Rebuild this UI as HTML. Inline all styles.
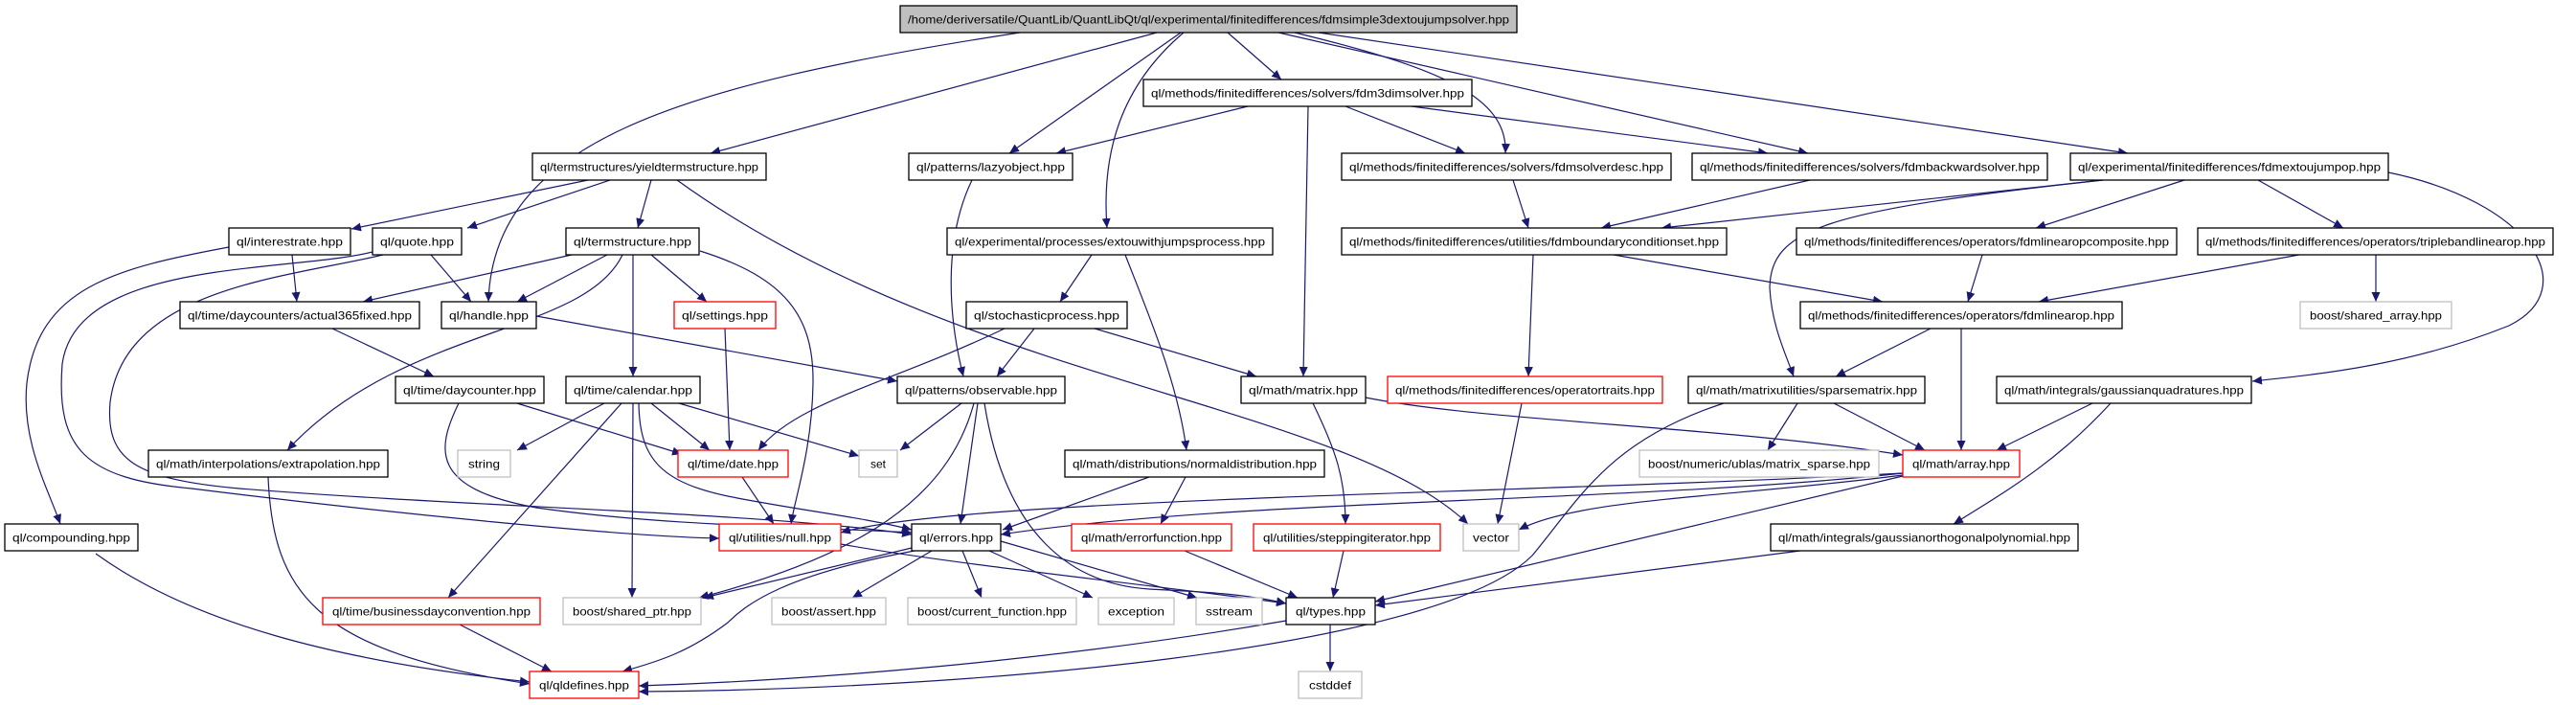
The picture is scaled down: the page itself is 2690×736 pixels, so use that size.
<!DOCTYPE html>
<html><head><meta charset="utf-8"><style>
html,body{margin:0;padding:0;background:#fff;}
svg{display:block;}
text{font-family:"Liberation Sans",sans-serif;font-size:12px;fill:#000;}
.n{fill:#fff;stroke:#000;stroke-width:1.3;}
.r{fill:#fff;stroke:#ff0000;stroke-width:1.3;}
.g{fill:#fff;stroke:#bfbfbf;stroke-width:1.3;}
.e{fill:none;stroke:#191970;stroke-width:1.2;marker-end:url(#a);}
</style></head><body>
<svg width="2690" height="736" viewBox="0 0 2690 736" xmlns="http://www.w3.org/2000/svg">
<defs><marker id="a" markerUnits="userSpaceOnUse" markerWidth="10" markerHeight="9" refX="10" refY="4.5" orient="auto"><path d="M0,0 L10,4.5 L0,9z" fill="#191970"/></marker></defs>
<g>
<path class="e" d="M1065,34 C700,90 515,150 510,315"/>
<path class="e" d="M1208,34 L742,160"/>
<path class="e" d="M1233,34 L1054,160"/>
<path class="e" d="M1236,34 C1170,90 1150,160 1156,238"/>
<path class="e" d="M1282,34 L1338,83"/>
<path class="e" d="M1352,34 C1500,70 1575,100 1572,160"/>
<path class="e" d="M1335,34 L1888,160"/>
<path class="e" d="M1377,34 L2222,160"/>
<path class="e" d="M1303,111 L1103,160"/>
<path class="e" d="M1405,111 L1530,160"/>
<path class="e" d="M1474,111 L1846,160"/>
<path class="e" d="M1366,111 L1361,393"/>
<path class="e" d="M614,188 L367,239"/>
<path class="e" d="M637,188 L488,238"/>
<path class="e" d="M680,188 L666,238"/>
<path class="e" d="M707,188 C1000,400 1400,420 1533,547"/>
<path class="e" d="M305,266 L310,315"/>
<path class="e" d="M239,258 C120,280 40,300 28,400 C22,460 50,510 63,547"/>
<path class="e" d="M389,263 C300,285 80,270 65,380 C58,470 90,500 200,510 C400,535 650,560 751,562"/>
<path class="e" d="M400,266 C300,290 130,300 115,420 C110,480 140,500 250,510 C500,530 800,535 952,558"/>
<path class="e" d="M450,266 L492,315"/>
<path class="e" d="M597,266 L379,315"/>
<path class="e" d="M634,266 L540,315"/>
<path class="e" d="M650,266 C610,350 420,340 300,470"/>
<path class="e" d="M661,266 L661,393"/>
<path class="e" d="M680,266 L738,315"/>
<path class="e" d="M731,262 C820,290 850,330 849,400 C848,470 830,520 826,547"/>
<path class="e" d="M560,330 L937,398"/>
<path class="e" d="M757,343 L762,470"/>
<path class="e" d="M347,343 L453,393"/>
<path class="e" d="M540,421 L712,474"/>
<path class="e" d="M479,421 C455,470 450,510 560,530 C700,550 850,550 952,556"/>
<path class="e" d="M631,421 L540,470"/>
<path class="e" d="M649,421 L468,624"/>
<path class="e" d="M661,421 L660,624"/>
<path class="e" d="M680,421 L741,470"/>
<path class="e" d="M709,421 L897,476"/>
<path class="e" d="M667,421 C668,480 690,505 770,520 C850,535 900,540 952,553"/>
<path class="e" d="M1049,343 C930,400 830,420 792,470"/>
<path class="e" d="M775,498 L808,547"/>
<path class="e" d="M1080,343 L1041,393"/>
<path class="e" d="M1143,343 L1312,393"/>
<path class="e" d="M1015,188 C985,250 990,330 1006,393"/>
<path class="e" d="M1140,266 L1107,315"/>
<path class="e" d="M1175,266 C1200,330 1230,400 1239,470"/>
<path class="e" d="M1004,421 L940,470"/>
<path class="e" d="M1021,421 L1003,547"/>
<path class="e" d="M1017,421 C990,520 900,580 730,624"/>
<path class="e" d="M1028,421 C1050,560 1120,610 1200,615 C1260,618 1300,620 1343,630"/>
<path class="e" d="M1200,498 L1047,553"/>
<path class="e" d="M1238,498 L1212,547"/>
<path class="e" d="M1371,421 C1395,470 1405,500 1405,547"/>
<path class="e" d="M1426,415 C1550,440 1800,445 1987,475"/>
<path class="e" d="M1589,421 L1564,547"/>
<path class="e" d="M952,572 L735,624"/>
<path class="e" d="M973,575 L890,624"/>
<path class="e" d="M1005,575 L1025,624"/>
<path class="e" d="M1033,575 L1141,624"/>
<path class="e" d="M1045,565 L1250,624"/>
<path class="e" d="M955,575 C820,600 780,630 760,650 C720,680 690,690 650,701"/>
<path class="e" d="M878,568 C1000,590 1200,610 1343,630"/>
<path class="e" d="M1237,575 L1355,624"/>
<path class="e" d="M1403,575 L1392,624"/>
<path class="e" d="M1389,652 L1389,701"/>
<path class="e" d="M1343,648 C1100,690 850,710 667,716"/>
<path class="e" d="M1800,421 C1680,460 1650,520 1600,580 C1500,680 1000,720 667,722"/>
<path class="e" d="M1987,497 L1436,628"/>
<path class="e" d="M1987,496 C1800,520 1650,520 1586,553"/>
<path class="e" d="M1987,494 C1700,525 1300,520 1045,558"/>
<path class="e" d="M1987,494 C1600,515 1000,520 878,556"/>
<path class="e" d="M1880,575 L1436,632"/>
<path class="e" d="M2185,421 L2085,470"/>
<path class="e" d="M2204,421 C2150,480 2100,510 2040,547"/>
<path class="e" d="M2016,343 L1917,393"/>
<path class="e" d="M2048,343 L2048,470"/>
<path class="e" d="M1877,421 L1846,470"/>
<path class="e" d="M1915,421 L2010,470"/>
<path class="e" d="M2196,188 C1900,220 1850,240 1848,300 C1850,340 1865,370 1873,393"/>
<path class="e" d="M2494,180 C2640,210 2700,300 2620,340 C2520,380 2430,390 2352,398"/>
<path class="e" d="M2196,188 L1735,238"/>
<path class="e" d="M2281,188 L2126,238"/>
<path class="e" d="M2358,188 L2447,238"/>
<path class="e" d="M1580,188 L1596,238"/>
<path class="e" d="M1890,188 L1672,238"/>
<path class="e" d="M1601,266 L1596,393"/>
<path class="e" d="M1685,266 L1966,315"/>
<path class="e" d="M2070,266 L2055,315"/>
<path class="e" d="M2401,266 L2129,315"/>
<path class="e" d="M2481,266 L2481,315"/>
<path class="e" d="M480,652 L576,701"/>
<path class="e" d="M280,498 C285,620 330,680 553,714"/>
<path class="e" d="M100,578 C200,650 350,690 553,712"/>
</g>
<g>
<rect x="940" y="6" width="644" height="28" fill="#bfbfbf" stroke="#000" stroke-width="1.3"/><text x="1262" y="24.5" text-anchor="middle" textLength="628" lengthAdjust="spacingAndGlyphs">/home/deriversatile/QuantLib/QuantLibQt/ql/experimental/finitedifferences/fdmsimple3dextoujumpsolver.hpp</text>
<rect class="n" x="1194" y="83" width="343" height="28"/><text x="1365.5" y="101.5" text-anchor="middle" textLength="327" lengthAdjust="spacingAndGlyphs">ql/methods/finitedifferences/solvers/fdm3dimsolver.hpp</text>
<rect class="n" x="556" y="160" width="244" height="28"/><text x="678" y="178.5" text-anchor="middle" textLength="228" lengthAdjust="spacingAndGlyphs">ql/termstructures/yieldtermstructure.hpp</text>
<rect class="n" x="949" y="160" width="171" height="28"/><text x="1034.5" y="178.5" text-anchor="middle" textLength="155" lengthAdjust="spacingAndGlyphs">ql/patterns/lazyobject.hpp</text>
<rect class="n" x="1401" y="160" width="344" height="28"/><text x="1573" y="178.5" text-anchor="middle" textLength="328" lengthAdjust="spacingAndGlyphs">ql/methods/finitedifferences/solvers/fdmsolverdesc.hpp</text>
<rect class="n" x="1767" y="160" width="371" height="28"/><text x="1952.5" y="178.5" text-anchor="middle" textLength="355" lengthAdjust="spacingAndGlyphs">ql/methods/finitedifferences/solvers/fdmbackwardsolver.hpp</text>
<rect class="n" x="2162" y="160" width="332" height="28"/><text x="2328" y="178.5" text-anchor="middle" textLength="316" lengthAdjust="spacingAndGlyphs">ql/experimental/finitedifferences/fdmextoujumpop.hpp</text>
<rect class="n" x="239" y="238" width="127" height="28"/><text x="302.5" y="256.5" text-anchor="middle" textLength="111" lengthAdjust="spacingAndGlyphs">ql/interestrate.hpp</text>
<rect class="n" x="389" y="238" width="93" height="28"/><text x="435.5" y="256.5" text-anchor="middle" textLength="77" lengthAdjust="spacingAndGlyphs">ql/quote.hpp</text>
<rect class="n" x="591" y="238" width="139" height="28"/><text x="660.5" y="256.5" text-anchor="middle" textLength="123" lengthAdjust="spacingAndGlyphs">ql/termstructure.hpp</text>
<rect class="n" x="989" y="238" width="340" height="28"/><text x="1159" y="256.5" text-anchor="middle" textLength="324" lengthAdjust="spacingAndGlyphs">ql/experimental/processes/extouwithjumpsprocess.hpp</text>
<rect class="n" x="1401" y="238" width="402" height="28"/><text x="1602" y="256.5" text-anchor="middle" textLength="386" lengthAdjust="spacingAndGlyphs">ql/methods/finitedifferences/utilities/fdmboundaryconditionset.hpp</text>
<rect class="n" x="1876" y="238" width="397" height="28"/><text x="2074.5" y="256.5" text-anchor="middle" textLength="381" lengthAdjust="spacingAndGlyphs">ql/methods/finitedifferences/operators/fdmlinearopcomposite.hpp</text>
<rect class="n" x="2295" y="238" width="371" height="28"/><text x="2480.5" y="256.5" text-anchor="middle" textLength="355" lengthAdjust="spacingAndGlyphs">ql/methods/finitedifferences/operators/triplebandlinearop.hpp</text>
<rect class="n" x="188" y="315" width="250" height="28"/><text x="313" y="333.5" text-anchor="middle" textLength="234" lengthAdjust="spacingAndGlyphs">ql/time/daycounters/actual365fixed.hpp</text>
<rect class="n" x="461" y="315" width="99" height="28"/><text x="510.5" y="333.5" text-anchor="middle" textLength="83" lengthAdjust="spacingAndGlyphs">ql/handle.hpp</text>
<rect class="r" x="704" y="315" width="106" height="28"/><text x="757" y="333.5" text-anchor="middle" textLength="90" lengthAdjust="spacingAndGlyphs">ql/settings.hpp</text>
<rect class="n" x="1009" y="315" width="168" height="28"/><text x="1093" y="333.5" text-anchor="middle" textLength="152" lengthAdjust="spacingAndGlyphs">ql/stochasticprocess.hpp</text>
<rect class="n" x="1880" y="315" width="336" height="28"/><text x="2048" y="333.5" text-anchor="middle" textLength="320" lengthAdjust="spacingAndGlyphs">ql/methods/finitedifferences/operators/fdmlinearop.hpp</text>
<rect class="g" x="2402" y="315" width="158" height="28"/><text x="2481" y="333.5" text-anchor="middle" textLength="138" lengthAdjust="spacingAndGlyphs">boost/shared_array.hpp</text>
<rect class="n" x="413" y="393" width="155" height="28"/><text x="490.5" y="411.5" text-anchor="middle" textLength="139" lengthAdjust="spacingAndGlyphs">ql/time/daycounter.hpp</text>
<rect class="n" x="591" y="393" width="140" height="28"/><text x="661" y="411.5" text-anchor="middle" textLength="124" lengthAdjust="spacingAndGlyphs">ql/time/calendar.hpp</text>
<rect class="n" x="937" y="393" width="175" height="28"/><text x="1024.5" y="411.5" text-anchor="middle" textLength="159" lengthAdjust="spacingAndGlyphs">ql/patterns/observable.hpp</text>
<rect class="n" x="1296" y="393" width="130" height="28"/><text x="1361" y="411.5" text-anchor="middle" textLength="114" lengthAdjust="spacingAndGlyphs">ql/math/matrix.hpp</text>
<rect class="r" x="1449" y="393" width="287" height="28"/><text x="1592.5" y="411.5" text-anchor="middle" textLength="271" lengthAdjust="spacingAndGlyphs">ql/methods/finitedifferences/operatortraits.hpp</text>
<rect class="n" x="1763" y="393" width="247" height="28"/><text x="1886.5" y="411.5" text-anchor="middle" textLength="231" lengthAdjust="spacingAndGlyphs">ql/math/matrixutilities/sparsematrix.hpp</text>
<rect class="n" x="2085" y="393" width="266" height="28"/><text x="2218" y="411.5" text-anchor="middle" textLength="250" lengthAdjust="spacingAndGlyphs">ql/math/integrals/gaussianquadratures.hpp</text>
<rect class="n" x="155" y="470" width="250" height="28"/><text x="280" y="488.5" text-anchor="middle" textLength="234" lengthAdjust="spacingAndGlyphs">ql/math/interpolations/extrapolation.hpp</text>
<rect class="g" x="478" y="470" width="55" height="28"/><text x="505.5" y="488.5" text-anchor="middle" textLength="33" lengthAdjust="spacingAndGlyphs">string</text>
<rect class="r" x="708" y="470" width="115" height="28"/><text x="765.5" y="488.5" text-anchor="middle" textLength="95" lengthAdjust="spacingAndGlyphs">ql/time/date.hpp</text>
<rect class="g" x="897" y="470" width="40" height="28"/><text x="917" y="488.5" text-anchor="middle">set</text>
<rect class="n" x="1112" y="470" width="271" height="28"/><text x="1247.5" y="488.5" text-anchor="middle" textLength="255" lengthAdjust="spacingAndGlyphs">ql/math/distributions/normaldistribution.hpp</text>
<rect class="g" x="1712" y="470" width="250" height="28"/><text x="1837" y="488.5" text-anchor="middle" textLength="232" lengthAdjust="spacingAndGlyphs">boost/numeric/ublas/matrix_sparse.hpp</text>
<rect class="r" x="1987" y="470" width="122" height="28"/><text x="2048" y="488.5" text-anchor="middle" textLength="102" lengthAdjust="spacingAndGlyphs">ql/math/array.hpp</text>
<rect class="n" x="5" y="547" width="139" height="28"/><text x="74.5" y="565.5" text-anchor="middle" textLength="123" lengthAdjust="spacingAndGlyphs">ql/compounding.hpp</text>
<rect class="r" x="751" y="547" width="127" height="28"/><text x="814.5" y="565.5" text-anchor="middle" textLength="107" lengthAdjust="spacingAndGlyphs">ql/utilities/null.hpp</text>
<rect class="n" x="952" y="547" width="93" height="28"/><text x="998.5" y="565.5" text-anchor="middle" textLength="77" lengthAdjust="spacingAndGlyphs">ql/errors.hpp</text>
<rect class="r" x="1119" y="547" width="167" height="28"/><text x="1202.5" y="565.5" text-anchor="middle" textLength="147" lengthAdjust="spacingAndGlyphs">ql/math/errorfunction.hpp</text>
<rect class="r" x="1309" y="547" width="195" height="28"/><text x="1406.5" y="565.5" text-anchor="middle" textLength="175" lengthAdjust="spacingAndGlyphs">ql/utilities/steppingiterator.hpp</text>
<rect class="g" x="1528" y="547" width="58" height="28"/><text x="1557" y="565.5" text-anchor="middle" textLength="38" lengthAdjust="spacingAndGlyphs">vector</text>
<rect class="n" x="1849" y="547" width="321" height="28"/><text x="2009.5" y="565.5" text-anchor="middle" textLength="305" lengthAdjust="spacingAndGlyphs">ql/math/integrals/gaussianorthogonalpolynomial.hpp</text>
<rect class="r" x="337" y="624" width="227" height="28"/><text x="450.5" y="642.5" text-anchor="middle" textLength="207" lengthAdjust="spacingAndGlyphs">ql/time/businessdayconvention.hpp</text>
<rect class="g" x="588" y="624" width="144" height="28"/><text x="660" y="642.5" text-anchor="middle" textLength="124" lengthAdjust="spacingAndGlyphs">boost/shared_ptr.hpp</text>
<rect class="g" x="806" y="624" width="119" height="28"/><text x="865.5" y="642.5" text-anchor="middle" textLength="99" lengthAdjust="spacingAndGlyphs">boost/assert.hpp</text>
<rect class="g" x="948" y="624" width="176" height="28"/><text x="1036" y="642.5" text-anchor="middle" textLength="156" lengthAdjust="spacingAndGlyphs">boost/current_function.hpp</text>
<rect class="g" x="1147" y="624" width="79" height="28"/><text x="1186.5" y="642.5" text-anchor="middle" textLength="59" lengthAdjust="spacingAndGlyphs">exception</text>
<rect class="g" x="1249" y="624" width="69" height="28"/><text x="1283.5" y="642.5" text-anchor="middle" textLength="49" lengthAdjust="spacingAndGlyphs">sstream</text>
<rect class="n" x="1343" y="624" width="93" height="28"/><text x="1389.5" y="642.5" text-anchor="middle" textLength="73" lengthAdjust="spacingAndGlyphs">ql/types.hpp</text>
<rect class="r" x="553" y="701" width="114" height="28"/><text x="610" y="719.5" text-anchor="middle" textLength="94" lengthAdjust="spacingAndGlyphs">ql/qldefines.hpp</text>
<rect class="g" x="1356" y="701" width="66" height="28"/><text x="1389" y="719.5" text-anchor="middle" textLength="44" lengthAdjust="spacingAndGlyphs">cstddef</text>
</g>
</svg>
</body></html>
